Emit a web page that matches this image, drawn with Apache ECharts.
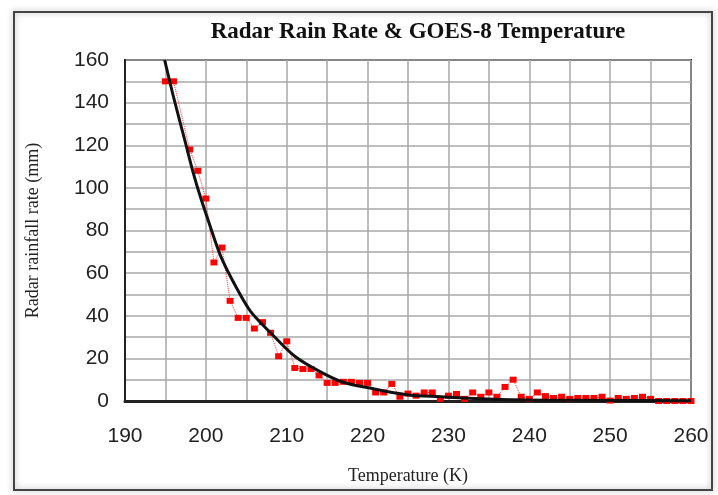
<!DOCTYPE html>
<html>
<head>
<meta charset="utf-8">
<script src="https://cdn.jsdelivr.net/npm/echarts@6/dist/echarts.min.js"></script>
<style>
  html, body { margin: 0; padding: 0; background: #fff; }
  #chart { width: 718px; height: 495px; }
</style>
</head>
<body>
<div id="chart"></div>
<script>
// radar rain rate samples (K, mm)
var temps = [195, 196, 198, 199, 200, 201, 202, 203, 204, 205, 206, 207, 208, 209, 210,
  211, 212, 213, 214, 215, 216, 217, 218, 219, 220, 221, 222, 223, 224, 225, 226, 227, 228,
  229, 230, 231, 232, 233, 234, 235, 236, 237, 238, 239, 240, 241, 242, 243, 244, 245, 246,
  247, 248, 249, 250, 251, 252, 253, 254, 255, 256, 257, 258, 259, 260];
var rainRate = [150, 150, 118, 108, 95, 65, 72, 47, 39, 39, 34, 37, 32, 21, 28,
  15.5, 15, 15, 12, 8.5, 8.5, 9, 9, 8.5, 8.5, 4, 4, 8, 2, 3.5, 2.5, 4, 4,
  1, 2.5, 3.3, 1, 4, 2, 4, 2, 6.6, 10, 2, 1, 4, 2.3, 1.4, 2, 1, 1.4,
  1.4, 1.4, 2, 0.2, 1.4, 1, 1.4, 2, 1, 0, 0, 0, 0, 0];

// fitted curve
var fitT = [194.9, 197, 200, 203.8, 208, 214, 221, 230, 245, 260];
var fitRate = [160, 128, 88, 53, 32, 14, 5.5, 1.8, 0.3, 0.1];

var chart = echarts.init(document.getElementById('chart'));

var gridStyle = { color: '#a8a8a8', width: 1.5 };

chart.setOption({
  backgroundColor: '#fff',
  animation: false,
  title: {
    text: 'Radar Rain Rate & GOES-8 Temperature',
    left: 413,
    top: 16,
    textAlign: 'center',
    textStyle: { fontFamily: 'Liberation Serif', fontWeight: 'bold', fontSize: 23, color: '#111' }
  },
  graphic: [{
    type: 'rect',
    shape: { x: 14, y: 12, width: 698, height: 478 },
    style: { fill: 'none', stroke: '#444', lineWidth: 2, shadowBlur: 6, shadowColor: 'rgba(0,0,0,0.35)' },
    z: -1
  }],
  grid: {
    left: 125, right: 27, top: 60, bottom: 94,
    show: true, borderColor: '#222', borderWidth: 2
  },
  xAxis: {
    type: 'value',
    min: 190, max: 260, interval: 10,
    name: 'Temperature (K)',
    nameLocation: 'middle',
    nameGap: 66,
    nameTextStyle: { fontFamily: 'Liberation Serif', fontSize: 18, color: '#222' },
    axisLine: { show: true, lineStyle: { color: '#222', width: 3 } },
    axisTick: { show: false },
    axisLabel: { fontFamily: 'Liberation Sans', fontSize: 21, color: '#222', margin: 25 },
    splitLine: { show: true, lineStyle: gridStyle },
    minorTick: { show: false, splitNumber: 2 },
    minorSplitLine: { show: true, lineStyle: gridStyle }
  },
  yAxis: {
    type: 'value',
    min: 0, max: 160, interval: 20,
    name: 'Radar rainfall rate (mm)',
    nameLocation: 'middle',
    nameGap: 83,
    nameTextStyle: { fontFamily: 'Liberation Serif', fontSize: 18, color: '#222' },
    axisLine: { show: true, lineStyle: { color: '#222', width: 2 } },
    axisTick: { show: false },
    axisLabel: { fontFamily: 'Liberation Sans', fontSize: 21, color: '#222', margin: 16 },
    splitLine: { show: true, lineStyle: gridStyle },
    minorTick: { show: false, splitNumber: 2 },
    minorSplitLine: { show: true, lineStyle: gridStyle }
  },
  series: [{
    name: 'radar',
    type: 'line',
    data: temps.map(function (t, i) { return [t, rainRate[i]]; }),
    symbol: 'rect',
    symbolSize: [7, 6],
    itemStyle: { color: '#ff0000' },
    lineStyle: { color: '#ff3030', width: 1, type: 'dotted' },
    z: 3
  }, {
    name: 'fit',
    type: 'line',
    data: fitT.map(function (t, i) { return [t, fitRate[i]]; }),
    symbol: 'none',
    smooth: 0.5,
    lineStyle: { color: '#111', width: 3 },
    z: 4
  }]
});
</script>
</body>
</html>
